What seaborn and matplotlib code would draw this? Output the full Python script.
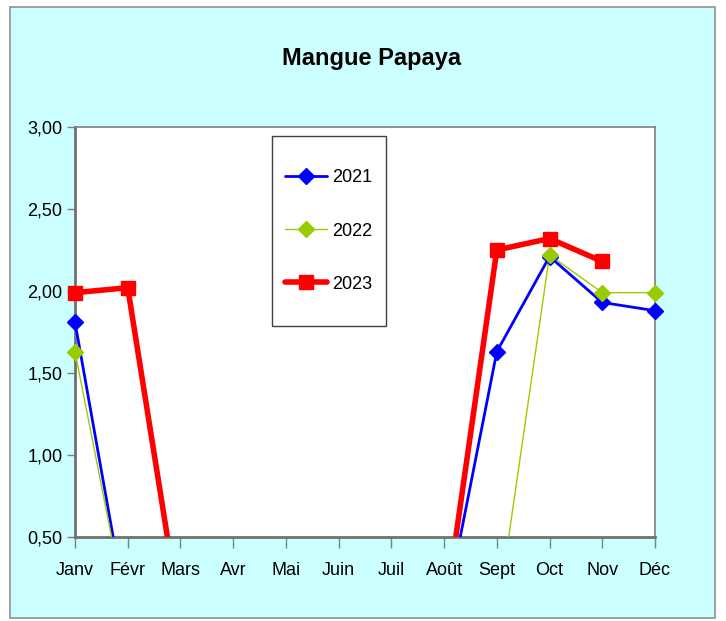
import numpy as np
import pandas as pd
import matplotlib
matplotlib.use("Agg")
import matplotlib.pyplot as plt
from matplotlib.patches import Rectangle
from matplotlib.lines import Line2D
from matplotlib.ticker import FuncFormatter
import seaborn as sns

months = ["Janv", "Févr", "Mars", "Avr", "Mai", "Juin", "Juil", "Août", "Sept", "Oct", "Nov", "Déc"]
y2021 = [1.81, 0, 0, 0, 0, 0, 0, 0, 1.63, 2.21, 1.93, 1.88]
y2022 = [1.63, 0, 0, 0, 0, 0, 0, 0, 0, 2.22, 1.99, 1.99]
y2023 = [1.99, 2.02, 0, 0, 0, 0, 0, 0, 2.25, 2.32, 2.18, np.nan]
title = "Mangue Papaya"

sns.set_theme(style="white")
plt.rcParams['font.family'] = ['Liberation Sans Narrow', 'Liberation Sans', 'DejaVu Sans']
plt.rcParams['text.color'] = 'black'
plt.rcParams['xtick.color'] = 'black'
plt.rcParams['ytick.color'] = 'black'

W, H = 726, 621
fig = plt.figure(figsize=(W / 100, H / 100), dpi=100, facecolor="white")
fig.patches.append(Rectangle((10 / W, 1 - 618 / H), 705 / W, 611 / H, transform=fig.transFigure,
                             facecolor="#CCFFFF", edgecolor="#909090", linewidth=1.2, zorder=-10))

ax = fig.add_axes([75 / W, 1 - 537 / H, 580 / W, 410 / H])
ax.set_facecolor("white")

x = np.arange(len(months))
series = [
    ("2021", y2021, "#0000FF", 2.0, "D", 8.5),
    ("2022", y2022, "#99CC00", 1.0, "D", 8.5),
    ("2023", y2023, "#FF0000", 4.0, "s", 9.5),
]
handles = []
for name, vals, col, lw, mk, ms in series:
    df = pd.DataFrame({"x": x, "y": vals})
    sns.lineplot(data=df, x="x", y="y", ax=ax, color=col, linewidth=lw, zorder=3)
    v = np.array(vals, dtype=float)
    keep = v >= 0.5
    ax.plot(x[keep], v[keep], linestyle="none", marker=mk, markersize=ms, color=col,
            markeredgecolor=col, clip_on=False, zorder=4)
    handles.append(Line2D([0], [0], color=col, linewidth=lw, marker=mk, markersize=ms,
                          markeredgecolor=col, label=name))

ax.set_xlim(0, 11)
ax.set_ylim(0.5, 3.0)
ax.set_xticks(x)
ax.set_xticklabels(months)
ax.set_yticks([0.5, 1.0, 1.5, 2.0, 2.5, 3.0])
ax.yaxis.set_major_formatter(FuncFormatter(lambda v, p: f"{v:.2f}".replace(".", ",")))
ax.set_xlabel("")
ax.set_ylabel("")
ax.tick_params(axis="x", direction="out", length=8, width=1, color="#808080", labelcolor="black",
               labelsize=13, pad=10, bottom=True)
ax.tick_params(axis="y", direction="out", length=6, width=1, color="#808080", labelcolor="black",
               labelsize=13, pad=3, left=True)
for s in ["left", "bottom"]:
    ax.spines[s].set_color("#707070")
    ax.spines[s].set_linewidth(2)
for s in ["top", "right"]:
    ax.spines[s].set_color("#808080")
    ax.spines[s].set_linewidth(1.2)

# legend box
x0 = (272 - 75) / 580
x1 = (386 - 75) / 580
yb = (537 - 326) / 410
yt = (537 - 136) / 410
ax.add_patch(Rectangle((x0, yb), x1 - x0, yt - yb, transform=ax.transAxes, facecolor="white",
                       edgecolor="#404040", linewidth=1, zorder=5))
leg = ax.legend(handles=handles, loc="center", bbox_to_anchor=((x0 + x1) / 2, (yb + yt) / 2),
                frameon=False, fontsize=13, labelspacing=2.0, handlelength=2.3, handletextpad=0.3)
leg.set_zorder(6)
for t in leg.get_texts():
    t.set_color("black")

fig.text(372 / W, 1 - 58 / H, title, ha="center", va="center", fontsize=17, fontweight="bold",
         color="black")

fig.savefig("out.png", dpi=100, facecolor="white")
